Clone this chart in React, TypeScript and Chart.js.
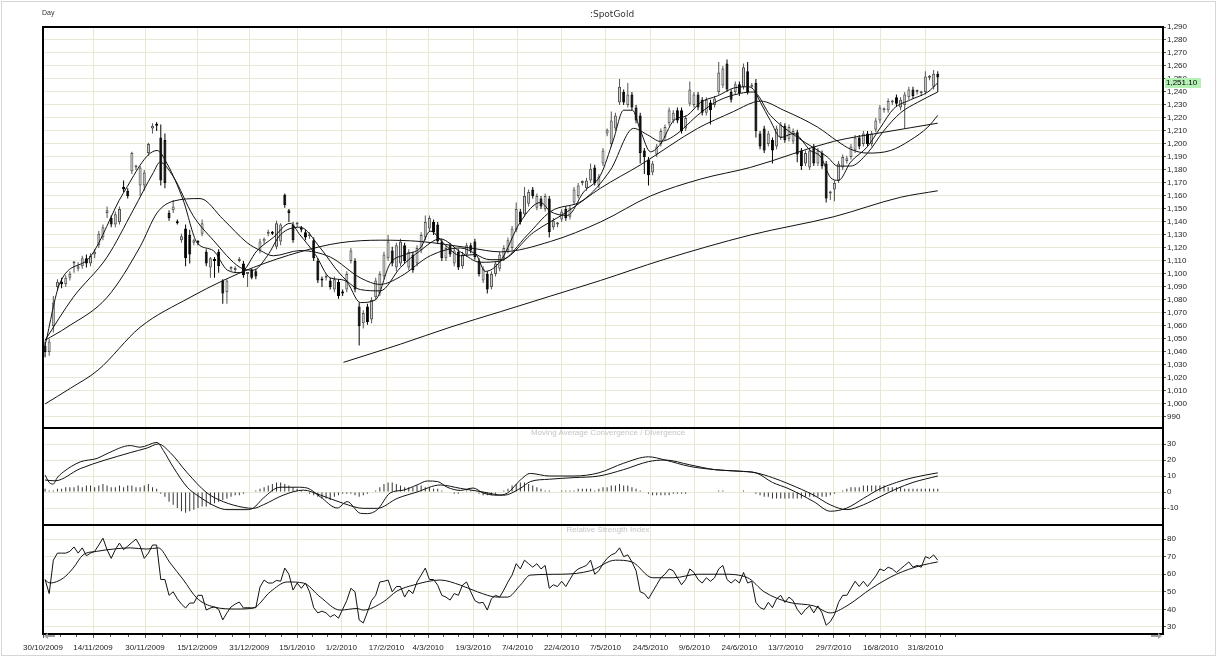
import React, { useEffect, useRef } from "react";
import { Chart, registerables } from "chart.js";

Chart.register(...registerables);
Chart.defaults.font.family = "'Liberation Sans', Arial, sans-serif";

// ---------- x axis (bar index) labels ----------
const dateLabels = [
  "30/10/2009", "14/11/2009", "30/11/2009", "15/12/2009", "31/12/2009", "15/1/2010", "1/2/2010",
  "17/2/2010", "4/3/2010", "19/3/2010", "7/4/2010", "22/4/2010", "7/5/2010", "24/5/2010",
  "9/6/2010", "24/6/2010", "13/7/2010", "29/7/2010", "16/8/2010", "31/8/2010",
];
const dateTickIdx = [-0.5, 11.6, 24.2, 36.8, 49.4, 61, 71.7, 82.6, 92.7, 103.6, 114.3, 125, 135.6, 146.5, 157.1, 168, 179.2, 190.8, 202.2, 213];

const priceTicks = [990, 1000, 1010, 1020, 1030, 1040, 1050, 1060, 1070, 1080, 1090, 1100, 1110, 1120, 1130, 1140, 1150, 1160, 1170, 1180, 1190, 1200, 1210, 1220, 1230, 1240, 1250, 1260, 1270, 1280, 1290];
const macdTicks = [30, 20, 10, 0, -10];
const rsiTicks = [80, 70, 60, 50, 40, 30];

// ---------- Spot gold daily OHLC ----------
const opens = [
  1045, 1040, 1060, 1090, 1094, 1092, 1097, 1108, 1104, 1106,
  1112, 1108, 1115, 1122, 1128, 1147, 1143, 1138, 1140, 1167,
  1164, 1179, 1182, 1168, 1168, 1193, 1212, 1215, 1205, 1203,
  1147, 1149, 1140, 1126, 1135, 1130, 1124, 1125, 1131, 1117,
  1105, 1111, 1117, 1095, 1086, 1104, 1103, 1110, 1108, 1100,
  1103, 1102, 1118, 1125, 1131, 1132, 1121, 1125, 1161, 1149,
  1138, 1138, 1135, 1132, 1129, 1126, 1110, 1096, 1097, 1095,
  1088, 1094, 1086, 1088, 1110, 1110, 1075, 1062, 1075, 1065,
  1082, 1085, 1098, 1112, 1118, 1105, 1108, 1122, 1105, 1115,
  1108, 1118, 1128, 1135, 1140, 1138, 1125, 1112, 1122, 1108,
  1117, 1106, 1115, 1122, 1125, 1110, 1095, 1100, 1090, 1100,
  1104, 1112, 1118, 1120, 1134, 1148, 1146, 1154, 1165, 1151,
  1158, 1150, 1158, 1136, 1138, 1142, 1150, 1144, 1155, 1160,
  1170, 1166, 1172, 1182, 1168, 1185, 1208, 1200, 1212, 1232,
  1240, 1230, 1238, 1228, 1222, 1195, 1188, 1178, 1192, 1200,
  1205, 1216, 1218, 1226, 1226, 1212, 1231, 1230, 1238, 1234,
  1224, 1232, 1230, 1240, 1245, 1262, 1240, 1240, 1246, 1244,
  1256, 1244, 1247, 1208, 1212, 1200, 1203, 1198, 1205, 1214,
  1204, 1202, 1209, 1195, 1185, 1182, 1198, 1185, 1193, 1185,
  1162, 1165, 1172, 1182, 1187, 1190, 1195, 1205, 1200, 1208,
  1200, 1211, 1218, 1226, 1226, 1232, 1236, 1228, 1230, 1236,
  1242, 1240, 1239, 1240, 1251, 1244, 1254,
];
const highs = [
  1048, 1050, 1083, 1096, 1097, 1099, 1102, 1110, 1109, 1114,
  1115, 1116, 1119, 1133, 1138, 1152, 1145, 1148, 1152, 1172,
  1166, 1194, 1184, 1183, 1180, 1201, 1216, 1217, 1215, 1208,
  1149, 1157, 1142, 1131, 1138, 1134, 1127, 1126, 1142, 1119,
  1113, 1113, 1119, 1096, 1096, 1106, 1106, 1113, 1110, 1101,
  1104, 1104, 1127, 1128, 1134, 1133, 1141, 1139, 1162, 1150,
  1140, 1140, 1137, 1134, 1132, 1128, 1112, 1098, 1100, 1097,
  1098, 1096, 1088, 1102, 1120, 1112, 1078, 1072, 1077, 1082,
  1097, 1102, 1117, 1130, 1121, 1124, 1127, 1124, 1119, 1117,
  1122, 1132, 1145, 1145, 1142, 1140, 1127, 1122, 1124, 1120,
  1119, 1117, 1124, 1124, 1127, 1112, 1106, 1102, 1102, 1110,
  1117, 1122, 1128, 1137, 1155, 1150, 1167, 1165, 1167, 1162,
  1160, 1162, 1160, 1143, 1140, 1150, 1152, 1153, 1167, 1170,
  1172, 1174, 1185, 1184, 1177, 1197, 1212, 1225, 1224, 1250,
  1242, 1247, 1240, 1230, 1224, 1197, 1190, 1187, 1200, 1212,
  1215, 1228, 1226, 1228, 1228, 1222, 1248, 1240, 1240, 1236,
  1236, 1234, 1237, 1263, 1260, 1265, 1242, 1248, 1248, 1262,
  1263, 1247, 1250, 1210, 1214, 1210, 1205, 1214, 1217, 1216,
  1215, 1212, 1211, 1197, 1195, 1197, 1200, 1197, 1195, 1187,
  1164, 1172, 1187, 1192, 1191, 1200, 1207, 1207, 1210, 1210,
  1210, 1220, 1230, 1228, 1235, 1234, 1238, 1236, 1240, 1244,
  1244, 1242, 1241, 1256, 1253, 1257, 1256,
];
const lows = [
  1036, 1037, 1055, 1087, 1089, 1090, 1095, 1101, 1102, 1104,
  1105, 1106, 1112, 1120, 1126, 1143, 1136, 1136, 1138, 1163,
  1158, 1177, 1180, 1160, 1164, 1191, 1208, 1210, 1168, 1166,
  1141, 1147, 1138, 1124, 1106, 1108, 1122, 1122, 1129, 1106,
  1097, 1097, 1101, 1077, 1077, 1102, 1101, 1109, 1097, 1090,
  1096, 1096, 1116, 1123, 1129, 1130, 1119, 1122, 1151, 1140,
  1124, 1136, 1132, 1126, 1127, 1110, 1093, 1090, 1095, 1088,
  1086, 1081, 1083, 1086, 1108, 1086, 1045, 1058, 1061, 1062,
  1080, 1083, 1096, 1110, 1106, 1102, 1106, 1108, 1103, 1101,
  1106, 1116, 1126, 1133, 1130, 1123, 1110, 1110, 1113, 1106,
  1103, 1104, 1113, 1116, 1111, 1098, 1093, 1085, 1088, 1098,
  1102, 1110, 1116, 1118, 1132, 1138, 1144, 1152, 1158, 1149,
  1150, 1148, 1128, 1134, 1136, 1140, 1141, 1142, 1153, 1158,
  1168, 1164, 1170, 1168, 1166, 1183, 1206, 1198, 1210, 1230,
  1230, 1228, 1226, 1216, 1185, 1177, 1168, 1176, 1190, 1198,
  1203, 1214, 1216, 1216, 1208, 1210, 1229, 1228, 1226, 1222,
  1222, 1215, 1228, 1238, 1243, 1240, 1232, 1238, 1237, 1242,
  1238, 1243, 1205, 1196, 1193, 1198, 1185, 1196, 1203, 1201,
  1202, 1200, 1186, 1180, 1183, 1180, 1183, 1183, 1181, 1155,
  1157, 1156, 1170, 1180, 1185, 1188, 1193, 1196, 1198, 1198,
  1198, 1209, 1216, 1224, 1224, 1230, 1229, 1226, 1212, 1234,
  1235, 1238, 1237, 1238, 1249, 1242, 1240,
];
const closes = [
  1040, 1048, 1078, 1094, 1092, 1097, 1100, 1108, 1106, 1112,
  1108, 1114, 1117, 1131, 1136, 1149, 1138, 1146, 1150, 1165,
  1160, 1193, 1183, 1182, 1178, 1200, 1214, 1214, 1172, 1170,
  1143, 1152, 1139, 1129, 1112, 1115, 1126, 1124, 1139, 1108,
  1112, 1110, 1106, 1085, 1095, 1104, 1104, 1111, 1099, 1100,
  1097, 1098, 1125, 1127, 1132, 1131, 1139, 1138, 1153, 1147,
  1126, 1139, 1134, 1128, 1130, 1112, 1095, 1095, 1098, 1090,
  1096, 1083, 1085, 1100, 1118, 1088, 1060, 1070, 1063, 1080,
  1095, 1100, 1115, 1125, 1108, 1122, 1125, 1110, 1117, 1103,
  1120, 1130, 1140, 1143, 1132, 1125, 1112, 1120, 1115, 1118,
  1105, 1115, 1122, 1118, 1113, 1100, 1104, 1088, 1100, 1108,
  1115, 1120, 1126, 1135, 1150, 1140, 1160, 1163, 1160, 1160,
  1152, 1160, 1132, 1141, 1138, 1148, 1143, 1151, 1165, 1168,
  1170, 1172, 1181, 1170, 1175, 1195, 1211, 1218, 1222, 1244,
  1232, 1238, 1228, 1218, 1193, 1190, 1176, 1185, 1198, 1210,
  1213, 1226, 1224, 1218, 1210, 1220, 1242, 1238, 1228, 1224,
  1234, 1226, 1235, 1255, 1258, 1242, 1234, 1246, 1239, 1259,
  1240, 1245, 1210, 1198, 1195, 1208, 1195, 1212, 1215, 1203,
  1213, 1210, 1192, 1183, 1193, 1195, 1185, 1195, 1183, 1158,
  1162, 1170, 1185, 1190, 1189, 1198, 1205, 1198, 1208, 1200,
  1208, 1218, 1228, 1226, 1233, 1232, 1231, 1234, 1238, 1242,
  1237, 1240, 1239, 1252, 1251, 1254, 1251.1,
];

// ---------- moving averages: [bar index, value] ----------
const ma5: [number, number][] = [
  [0, 1045], [3.6, 1093], [10.9, 1113], [18.9, 1162], [27.1, 1195], [29.5, 1185], [33.4, 1157], [36.8, 1124],
  [40.7, 1118], [44.1, 1103], [47.2, 1101], [51.3, 1118], [55.2, 1128], [59.3, 1139], [61.7, 1130], [65.4, 1115],
  [69, 1097], [72.6, 1095], [76.3, 1078], [79.9, 1080], [83.5, 1108], [87.2, 1115], [90.8, 1120], [93.2, 1133],
  [96.9, 1122], [100.5, 1114], [104.1, 1115], [106.5, 1102], [110.2, 1110], [115, 1140], [119.9, 1155],
  [122.3, 1148], [126.4, 1145], [130.3, 1163], [134.4, 1176], [137.5, 1203], [140, 1226], [142.1, 1226],
  [144.1, 1210], [146.5, 1194], [148.9, 1200], [152.1, 1218], [155.4, 1222], [158.6, 1232], [162.7, 1237],
  [166.6, 1243], [170, 1244], [171.4, 1242], [173.1, 1232], [175.5, 1218], [178, 1205], [181.1, 1208],
  [185.2, 1195], [187.7, 1190], [190.1, 1174], [192, 1172], [194.9, 1186], [199, 1198], [202.2, 1213],
  [205.3, 1227], [209.4, 1234], [213.6, 1240], [216, 1247],
];
const ma10: [number, number][] = [
  [0, 1049], [6.8, 1082], [15, 1113], [21.3, 1149], [26.2, 1178], [27.8, 1186], [31, 1175], [35.8, 1145],
  [40.7, 1126], [47.2, 1105], [50.4, 1103], [53.8, 1114], [56.9, 1130], [61.7, 1136], [66.6, 1120],
  [71.4, 1100], [76.3, 1088], [81.1, 1087], [86, 1105], [90.8, 1118], [95.6, 1127], [100.5, 1117],
  [105.3, 1109], [110.2, 1110], [116.7, 1130], [122.3, 1148], [130.3, 1157], [136.8, 1180], [142.4, 1212],
  [145.8, 1207], [148.9, 1202], [152.1, 1206], [158.6, 1224], [162.7, 1233], [168.3, 1239], [171.4, 1240],
  [175.5, 1222], [182.1, 1205], [189.3, 1190], [191.8, 1183], [194.9, 1183], [199, 1193], [202.9, 1210],
  [207, 1224], [211.1, 1232], [216, 1240],
];
const ma20: [number, number][] = [
  [0, 1049], [5.3, 1059], [15, 1082], [23, 1121], [27.1, 1147], [31, 1156], [37.5, 1158], [43.1, 1142],
  [48.9, 1124], [52.1, 1118], [55.2, 1114], [61.7, 1118], [69, 1113], [76.3, 1097], [81.1, 1092], [86, 1098],
  [93.2, 1114], [100.5, 1120], [107.7, 1111], [110.2, 1111], [118.2, 1132], [126.4, 1148], [134.4, 1166],
  [144.1, 1184], [157.9, 1212], [166.6, 1225], [171.4, 1232], [173.1, 1233], [178.7, 1226], [186.9, 1213],
  [191.8, 1202], [194.9, 1196], [199, 1193], [204.6, 1195], [209.4, 1203], [213.6, 1213], [216, 1222],
];
const ma50: [number, number][] = [
  [0, 1000], [6.1, 1012], [12.8, 1026], [23, 1059], [35.1, 1082], [43.1, 1095], [50.4, 1105], [61.7, 1117],
  [71.4, 1124], [81.1, 1126], [90.8, 1125], [102.9, 1120], [110.2, 1117], [122.3, 1125], [134.4, 1140],
  [146.5, 1160], [158.6, 1173], [170.7, 1182], [190.8, 1202], [202.9, 1209], [216, 1216],
];
const ma200: [number, number][] = [
  [72.2, 1032], [86, 1046], [98, 1059], [110.2, 1071], [122.3, 1083], [134.4, 1095], [149.6, 1111],
  [170.7, 1130], [190.8, 1144], [207, 1159], [216, 1164],
];

// ---------- MACD ----------
const macdLine: [number, number][] = [
  [0, 10.6], [1, 6], [2, 5], [2.9, 8.8], [4.4, 12.5], [8.5, 18.8], [12.6, 21], [15, 24], [20.6, 29], [23, 28],
  [27.1, 31], [28.6, 26], [31, 15.6], [34.4, 3], [36.8, -2], [41.6, -9.4], [44, -11], [48.9, -11], [50.4, -10],
  [52.8, -3.8], [56.9, 3], [61, 3], [63.4, 2.5], [66.6, -3], [70.7, -10], [73.1, -6], [76.3, -13.3], [78, -13.5],
  [80.4, -11], [83.5, -0.6], [86.7, 1.2], [90, 4.4], [92.5, 6.9], [95, 6.5], [97.3, 3], [100.5, 1], [103.6, 2.5],
  [106, -0.6], [109.4, -2], [111.9, -0.6], [115, 7.5], [117.4, 11.6], [122, 10], [128, 10], [134, 12], [140, 18],
  [146, 22], [150, 20], [156, 16], [162, 14], [168, 13], [172, 12], [176, 6], [180, 2], [186, -6], [190, -12],
  [194, -10], [198, -4], [202, 2], [206, 6], [210, 9], [216, 12],
];
const macdSignal: [number, number][] = [
  [0, 7.5], [2.4, 7], [8.5, 14.6], [20.6, 24.6], [24.7, 27.5], [27.4, 30], [30.3, 24.6], [34.4, 12], [39.2, -0.6],
  [43.1, -6], [48, -9.6], [50.4, -10.2], [52.8, -8], [57.6, -2], [62.5, 1.2], [66.6, -1.9], [72.2, -7.1],
  [77, -10.2], [80.4, -10.2], [85.2, -4], [90, 0], [95.6, 4.4], [100.5, 2.3], [106, 0], [110.9, -2], [115, 2.3],
  [117.4, 6.5], [122, 8], [128, 9], [134, 10], [140, 14], [146, 19], [150, 20], [156, 17], [162, 14], [168, 13],
  [172, 12], [176, 9], [180, 5], [186, -2], [190, -8], [194, -11], [198, -8], [202, -3], [206, 2], [210, 6], [216, 10],
];
const macdHist = [
  2, 1, 1, 2, 2, 3, 3, 3, 4, 3,
  4, 4, 3, 4, 5, 4, 3, 3, 4, 3,
  4, 4, 3, 3, 4, 5, 3, 2, -1, -3,
  -6, -8, -10, -12, -13, -12, -11, -10, -9, -9,
  -8, -7, -6, -5, -4, -3, -2, -2, -1, 0,
  0, 1, 2, 3, 4, 5, 6, 6, 5, 4,
  3, 2, 1, 0, -1, -2, -3, -4, -4, -5,
  -3, -2, -1, -1, -1, -2, -3, -2, -1, 0,
  1, 3, 5, 6, 6, 5, 4, 3, 3, 3,
  4, 4, 3, 3, 2, 2, 1, 0, 0, -1,
  -1, 0, 1, 1, 0, -1, -2, -2, -2, -1,
  0, 1, 2, 4, 5, 6, 6, 5, 4, 3,
  2, 1, 1, 0, 0, 1, 1, 1, 1, 2,
  2, 2, 2, 1, 2, 3, 3, 4, 4, 5,
  4, 4, 3, 2, 1, 0, -1, -2, -2, -2,
  -2, -2, -1, -1, -1, -1, 0, 0, 0, 0,
  0, 0, 0, 1, 1, 0, 0, 0, 0, 1,
  0, 0, -1, -2, -3, -3, -4, -4, -4, -4,
  -4, -4, -4, -4, -3, -3, -3, -3, -3, -3,
  -2, -1, 0, 1, 2, 3, 3, 3, 4, 4,
  4, 4, 4, 4, 3, 3, 3, 3, 2, 2,
  2, 2, 2, 2, 2, 2, 2,
];

// ---------- RSI ----------
const rsiValues = [
  57, 49, 68, 72, 72, 72, 73, 75.5, 72, 75,
  70.5, 72, 73, 76.6, 80.5, 74, 69, 74, 77.7, 74,
  76, 78, 80, 76, 69, 72, 76.6, 76.6, 57, 57,
  48, 50, 46, 43, 40.8, 43.6, 43.6, 48, 48, 39.6,
  40.8, 41.4, 40, 34, 38, 41.4, 43, 44.2, 40.8, 41,
  40.8, 41, 52.7, 56.7, 55, 55, 56.5, 56, 63.5, 60,
  51, 55, 52, 55, 50, 41, 38, 39, 38, 35.7,
  37, 35, 40, 45, 52, 50, 34, 32.3, 38.5, 45,
  48, 55.6, 56, 56.7, 50, 53, 53, 47, 51, 49,
  55.6, 59.5, 63.5, 57, 57, 53.8, 48, 47, 45.3, 49,
  48, 53.8, 55.6, 50, 45, 43.6, 44, 39.6, 46, 48,
  47, 51, 55.6, 59.5, 66, 63, 68, 66, 64, 66,
  63, 65, 52, 54, 53, 56, 53, 57, 61, 63,
  64, 65, 68, 60, 62, 66, 69, 71, 72, 75,
  70, 71, 67, 62, 50, 49, 46, 50, 54, 58,
  60, 63, 62, 58, 54, 57, 63, 61, 57, 55,
  58, 56, 58, 63, 65, 57, 55, 57, 55, 61,
  55, 56, 44, 41, 40, 44, 41, 46, 48, 44,
  47, 45, 40, 37, 40, 42, 38, 42, 38, 31,
  33, 37, 44, 48, 48, 52, 56, 53, 56, 53,
  56, 59, 63, 62, 64, 63, 61, 63, 65, 67,
  64, 65, 64, 70, 69, 71, 68,
];
const rsiSignal: [number, number][] = [
  [0, 56.7], [1.2, 55], [4.4, 57.8], [6.8, 63.5], [9.2, 71], [12.5, 73], [16.5, 74.3], [20.6, 75], [24.6, 74.3],
  [27.4, 75], [30.3, 66.3], [33.5, 56.7], [36.7, 46.5], [40.8, 41.4], [46.4, 40.2], [50.4, 40.8], [54.5, 50],
  [58.6, 55.6], [62.5, 55], [66.6, 47], [71.4, 39.6], [75.5, 40.5], [77, 39.6], [81.8, 44.2], [85.2, 50.5],
  [89.1, 53.8], [95.6, 56.7], [100.5, 53.8], [104.6, 50], [109.4, 47], [111.9, 47], [115, 53.8], [117.4, 59.5],
  [125, 60], [132, 62], [138, 68], [142, 67], [147, 58], [152, 58], [158, 60], [164, 60], [170, 58], [174, 50],
  [180, 44], [186, 42], [190, 38], [194, 42], [200, 52], [206, 60], [212, 65], [216, 67],
];

const GRID = "#ebe7d5";
const LINE = "#111111";

function fmtPrice(v: number): string {
  if (v >= 1000) {
    const th = Math.floor(v / 1000);
    const rest = Math.round(v - th * 1000);
    return `${th},${String(rest).padStart(3, "0")}`;
  }
  return String(v);
}

const decorPlugin = {
  id: "decor",
  afterDraw(chart: any) {
    const { ctx, chartArea: a, scales } = chart;
    ctx.save();
    // minor ticks along the time axis: thirds between labelled dates
    const xs = scales.x;
    ctx.strokeStyle = "#555";
    ctx.lineWidth = 1;
    const minor: number[] = [];
    for (let k = 0; k < dateTickIdx.length - 1; k++) {
      const d = dateTickIdx[k + 1] - dateTickIdx[k];
      minor.push(dateTickIdx[k] + d / 3, dateTickIdx[k] + (2 * d) / 3);
    }
    const lastStep = (dateTickIdx[dateTickIdx.length - 1] - dateTickIdx[dateTickIdx.length - 2]) / 3;
    minor.push(dateTickIdx[dateTickIdx.length - 1] + lastStep, dateTickIdx[dateTickIdx.length - 1] + 2 * lastStep);
    for (const m of minor) {
      const px = Math.round(xs.getPixelForValue(m)) + 0.5;
      ctx.beginPath();
      ctx.moveTo(px, a.bottom + 1);
      ctx.lineTo(px, a.bottom + 3);
      ctx.stroke();
    }
    // panel frames
    ctx.strokeStyle = "#000";
    ctx.lineWidth = 2;
    for (const id of ["y", "yMacd", "yRsi"]) {
      const s = scales[id];
      ctx.strokeRect(a.left, Math.round(s.top), a.right - a.left, Math.round(s.bottom) - Math.round(s.top));
    }
    // last price label
    const last = closes[closes.length - 1];
    const py = Math.round(scales.y.getPixelForValue(last));
    ctx.fillStyle = "#b5f0b5";
    ctx.fillRect(a.right + 2, py, 36, 10);
    ctx.fillStyle = "#000";
    ctx.font = "8px 'Liberation Sans', Arial, sans-serif";
    ctx.textBaseline = "middle";
    ctx.textAlign = "left";
    ctx.fillText(last.toFixed(2).replace(/^(\d)(\d{3})/, "$1,$2"), a.right + 3, py + 5);
    // scroll arrows
    ctx.strokeStyle = "#a0a0a0";
    ctx.fillStyle = "#a0a0a0";
    ctx.lineWidth = 2;
    const ay = a.bottom + 2;
    ctx.beginPath();
    ctx.moveTo(a.left + 4, ay);
    ctx.lineTo(a.left + 12, ay);
    ctx.stroke();
    ctx.beginPath();
    ctx.moveTo(a.left + 1, ay);
    ctx.lineTo(a.left + 5, ay - 3);
    ctx.lineTo(a.left + 5, ay + 3);
    ctx.fill();
    ctx.beginPath();
    ctx.moveTo(a.right - 12, ay);
    ctx.lineTo(a.right - 4, ay);
    ctx.stroke();
    ctx.beginPath();
    ctx.moveTo(a.right - 1, ay);
    ctx.lineTo(a.right - 5, ay - 3);
    ctx.lineTo(a.right - 5, ay + 3);
    ctx.fill();
    ctx.restore();
  },
};

const pts = (arr: [number, number][]) => arr.map(([x, y]) => ({ x, y }));

export default function App() {
  const canvasRef = useRef<HTMLCanvasElement | null>(null);

  useEffect(() => {
    const canvas = canvasRef.current;
    if (!canvas) return;
    const idx = closes.map((_, i) => i);
    const up = idx.map((i) => closes[i] >= opens[i]);

    const lineDs = (data: [number, number][], yAxisID: string, smooth: boolean) => ({
      type: "line" as const,
      data: pts(data),
      yAxisID,
      xAxisID: "x",
      borderColor: LINE,
      borderWidth: 1,
      pointRadius: 0,
      fill: false,
      cubicInterpolationMode: smooth ? ("monotone" as const) : ("default" as const),
      tension: 0,
      order: 0,
    });

    const chart = new Chart(canvas, {
      type: "bar",
      data: {
        datasets: [
          {
            type: "bar",
            data: idx.map((i) => ({ x: i, y: [lows[i], highs[i]] })),
            yAxisID: "y",
            xAxisID: "x",
            backgroundColor: idx.map((i) => (up[i] ? "#555" : "#000")),
            barThickness: 1,
            grouped: false,
            inflateAmount: 0,
            order: 3,
          } as any,
          {
            type: "bar",
            data: idx.map((i) => ({ x: i, y: [opens[i], closes[i]] })),
            yAxisID: "y",
            xAxisID: "x",
            backgroundColor: idx.map((i) => (up[i] ? "#d2d2d2" : "#000")),
            borderColor: idx.map((i) => (up[i] ? "#505050" : "#000")),
            borderWidth: 1,
            borderSkipped: false,
            barThickness: 3,
            minBarLength: 2,
            grouped: false,
            inflateAmount: 0,
            order: 2,
          } as any,
          lineDs(ma5, "y", true),
          lineDs(ma10, "y", true),
          lineDs(ma20, "y", true),
          lineDs(ma50, "y", true),
          lineDs(ma200, "y", true),
          {
            type: "bar",
            data: idx.map((i) => ({ x: i, y: macdHist[i] })),
            yAxisID: "yMacd",
            xAxisID: "x",
            backgroundColor: "#333",
            barThickness: 1,
            grouped: false,
            inflateAmount: 0,
            order: 2,
          } as any,
          lineDs(macdLine, "yMacd", true),
          lineDs(macdSignal, "yMacd", true),
          lineDs(idx.map((i) => [i, rsiValues[i]] as [number, number]), "yRsi", false),
          lineDs(rsiSignal, "yRsi", true),
        ],
      },
      options: {
        animation: false,
        responsive: false,
        devicePixelRatio: 1,
        events: [],
        layout: { padding: { left: 43, top: 27, right: 0, bottom: 0 } },
        plugins: { legend: { display: false }, tooltip: { enabled: false }, title: { display: false } },
        scales: {
          x: {
            type: "linear",
            min: -0.5,
            max: 270.5,
            offset: false,
            afterBuildTicks: (s: any) => {
              s.ticks = dateTickIdx.map((v) => ({ value: v }));
            },
            afterFit: (s: any) => {
              s.height = 23;
            },
            grid: { color: GRID, offset: false, tickLength: 4, tickColor: "#555", lineWidth: 1 },
            border: { display: true, color: "#000", width: 2 },
            ticks: {
              autoSkip: false,
              maxRotation: 0,
              minRotation: 0,
              padding: 5,
              color: "#222",
              font: { size: 8 },
              callback: (_v: any, i: number) => dateLabels[i],
            },
          },
          y: {
            type: "linear",
            position: "right",
            stack: "panels",
            stackWeight: 401,
            min: 981.5,
            max: 1290,
            beginAtZero: false,
            offset: false,
            afterBuildTicks: (s: any) => {
              s.ticks = priceTicks.map((v) => ({ value: v }));
            },
            afterFit: (s: any) => {
              s.width = 54;
            },
            grid: { color: GRID, tickLength: 3, tickColor: "#555" },
            border: { display: true, color: "#000", width: 2 },
            ticks: { autoSkip: false, padding: 1, color: "#222", font: { size: 8 }, callback: (v: any) => fmtPrice(Number(v)) },
          },
          yMacd: {
            type: "linear",
            position: "right",
            stack: "panels",
            stackWeight: 97,
            min: -20.6,
            max: 40,
            beginAtZero: false,
            offset: false,
            afterBuildTicks: (s: any) => {
              s.ticks = macdTicks.map((v) => ({ value: v }));
            },
            afterFit: (s: any) => {
              s.width = 54;
            },
            grid: { color: GRID, tickLength: 3, tickColor: "#555" },
            border: { display: true, color: "#000", width: 2 },
            ticks: { autoSkip: false, padding: 1, color: "#222", font: { size: 8 } },
          },
          yRsi: {
            type: "linear",
            position: "right",
            stack: "panels",
            stackWeight: 109,
            min: 26,
            max: 88,
            beginAtZero: false,
            offset: false,
            afterBuildTicks: (s: any) => {
              s.ticks = rsiTicks.map((v) => ({ value: v }));
            },
            afterFit: (s: any) => {
              s.width = 54;
            },
            grid: { color: GRID, tickLength: 3, tickColor: "#555" },
            border: { display: true, color: "#000", width: 2 },
            ticks: { autoSkip: false, padding: 1, color: "#222", font: { size: 8 } },
          },
        },
      } as any,
      plugins: [decorPlugin],
    });
    return () => chart.destroy();
  }, []);

  const abs: React.CSSProperties = { position: "absolute", whiteSpace: "nowrap", lineHeight: 1 };
  return (
    <div style={{ position: "absolute", left: 0, top: 0, width: 1217, height: 657, background: "#fff", overflow: "hidden" }}>
      <canvas ref={canvasRef} width={1217} height={657} style={{ position: "absolute", left: 0, top: 0, width: 1217, height: 657 }} />
      <div style={{ position: "absolute", left: 1, top: 1, width: 1215, height: 655, boxSizing: "border-box", border: "1px solid #d6d6d6", pointerEvents: "none" }} />
      <div style={{ ...abs, left: 42, top: 9, fontFamily: "'Liberation Sans', Arial, sans-serif", fontSize: 7, color: "#333" }}>Day</div>
      <div style={{ ...abs, left: 612, top: 10, transform: "translateX(-50%)", fontFamily: "'DejaVu Sans', sans-serif", fontSize: 9, color: "#333" }}>:SpotGold</div>
      <div style={{ ...abs, left: 608, top: 429, transform: "translateX(-50%)", fontFamily: "'Liberation Sans', Arial, sans-serif", fontSize: 8, color: "#c4c4c4" }}>
        Moving Average Convergence / Divergence
      </div>
      <div style={{ ...abs, left: 608, top: 526, transform: "translateX(-50%)", fontFamily: "'Liberation Sans', Arial, sans-serif", fontSize: 8, color: "#c4c4c4" }}>
        Relative Strength Index
      </div>
    </div>
  );
}
